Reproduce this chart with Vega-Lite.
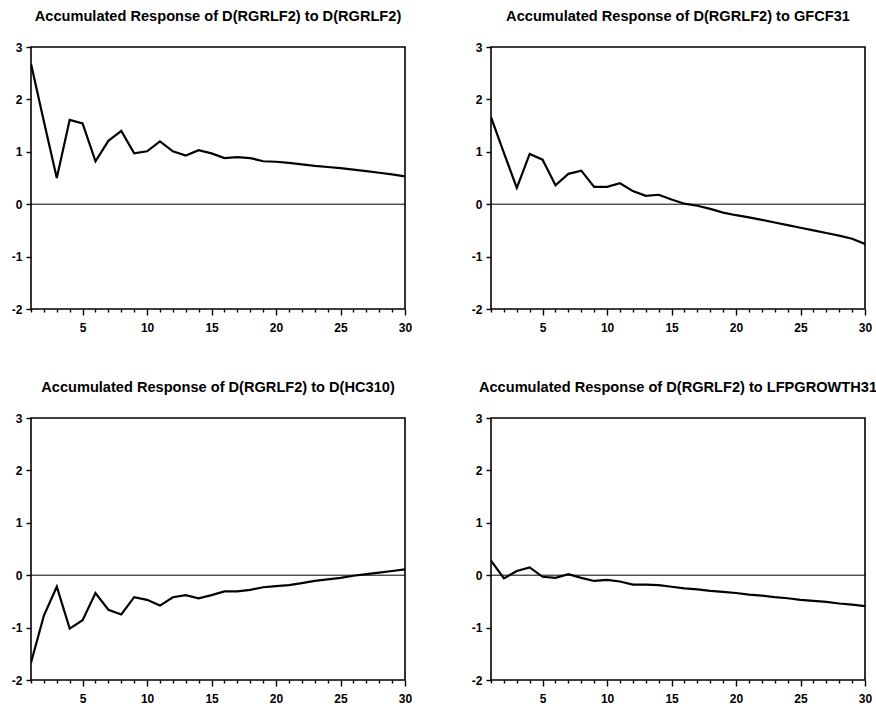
{
  "$schema": "https://vega.github.io/schema/vega-lite/v6.json",
  "background": "white",
  "padding": {"left": 10, "top": 8, "right": 4, "bottom": 4},
  "config": {
    "view": {"stroke": "black", "strokeWidth": 1.6},
    "font": "Liberation Sans",
    "axis": {
      "labelFont": "Liberation Sans",
      "labelFontWeight": "bold",
      "labelFontSize": 12,
      "labelColor": "black",
      "tickColor": "black",
      "domainColor": "black",
      "grid": false,
      "title": null
    }
  },
  "data": {
    "values": [
      {"panel": "Accumulated Response of D(RGRLF2) to D(RGRLF2)", "h": 1, "value": 2.68},
      {"panel": "Accumulated Response of D(RGRLF2) to D(RGRLF2)", "h": 2, "value": 1.58},
      {"panel": "Accumulated Response of D(RGRLF2) to D(RGRLF2)", "h": 3, "value": 0.5},
      {"panel": "Accumulated Response of D(RGRLF2) to D(RGRLF2)", "h": 4, "value": 1.61},
      {"panel": "Accumulated Response of D(RGRLF2) to D(RGRLF2)", "h": 5, "value": 1.54},
      {"panel": "Accumulated Response of D(RGRLF2) to D(RGRLF2)", "h": 6, "value": 0.82},
      {"panel": "Accumulated Response of D(RGRLF2) to D(RGRLF2)", "h": 7, "value": 1.21},
      {"panel": "Accumulated Response of D(RGRLF2) to D(RGRLF2)", "h": 8, "value": 1.4},
      {"panel": "Accumulated Response of D(RGRLF2) to D(RGRLF2)", "h": 9, "value": 0.97},
      {"panel": "Accumulated Response of D(RGRLF2) to D(RGRLF2)", "h": 10, "value": 1.01},
      {"panel": "Accumulated Response of D(RGRLF2) to D(RGRLF2)", "h": 11, "value": 1.2},
      {"panel": "Accumulated Response of D(RGRLF2) to D(RGRLF2)", "h": 12, "value": 1.01},
      {"panel": "Accumulated Response of D(RGRLF2) to D(RGRLF2)", "h": 13, "value": 0.93},
      {"panel": "Accumulated Response of D(RGRLF2) to D(RGRLF2)", "h": 14, "value": 1.03},
      {"panel": "Accumulated Response of D(RGRLF2) to D(RGRLF2)", "h": 15, "value": 0.97},
      {"panel": "Accumulated Response of D(RGRLF2) to D(RGRLF2)", "h": 16, "value": 0.88},
      {"panel": "Accumulated Response of D(RGRLF2) to D(RGRLF2)", "h": 17, "value": 0.9},
      {"panel": "Accumulated Response of D(RGRLF2) to D(RGRLF2)", "h": 18, "value": 0.88},
      {"panel": "Accumulated Response of D(RGRLF2) to D(RGRLF2)", "h": 19, "value": 0.82},
      {"panel": "Accumulated Response of D(RGRLF2) to D(RGRLF2)", "h": 20, "value": 0.81},
      {"panel": "Accumulated Response of D(RGRLF2) to D(RGRLF2)", "h": 21, "value": 0.79},
      {"panel": "Accumulated Response of D(RGRLF2) to D(RGRLF2)", "h": 22, "value": 0.76},
      {"panel": "Accumulated Response of D(RGRLF2) to D(RGRLF2)", "h": 23, "value": 0.73},
      {"panel": "Accumulated Response of D(RGRLF2) to D(RGRLF2)", "h": 24, "value": 0.71},
      {"panel": "Accumulated Response of D(RGRLF2) to D(RGRLF2)", "h": 25, "value": 0.69},
      {"panel": "Accumulated Response of D(RGRLF2) to D(RGRLF2)", "h": 26, "value": 0.66},
      {"panel": "Accumulated Response of D(RGRLF2) to D(RGRLF2)", "h": 27, "value": 0.63},
      {"panel": "Accumulated Response of D(RGRLF2) to D(RGRLF2)", "h": 28, "value": 0.6},
      {"panel": "Accumulated Response of D(RGRLF2) to D(RGRLF2)", "h": 29, "value": 0.57},
      {"panel": "Accumulated Response of D(RGRLF2) to D(RGRLF2)", "h": 30, "value": 0.53},

      {"panel": "Accumulated Response of D(RGRLF2) to GFCF31", "h": 1, "value": 1.66},
      {"panel": "Accumulated Response of D(RGRLF2) to GFCF31", "h": 2, "value": 0.98},
      {"panel": "Accumulated Response of D(RGRLF2) to GFCF31", "h": 3, "value": 0.31},
      {"panel": "Accumulated Response of D(RGRLF2) to GFCF31", "h": 4, "value": 0.96},
      {"panel": "Accumulated Response of D(RGRLF2) to GFCF31", "h": 5, "value": 0.85},
      {"panel": "Accumulated Response of D(RGRLF2) to GFCF31", "h": 6, "value": 0.36},
      {"panel": "Accumulated Response of D(RGRLF2) to GFCF31", "h": 7, "value": 0.58},
      {"panel": "Accumulated Response of D(RGRLF2) to GFCF31", "h": 8, "value": 0.64},
      {"panel": "Accumulated Response of D(RGRLF2) to GFCF31", "h": 9, "value": 0.33},
      {"panel": "Accumulated Response of D(RGRLF2) to GFCF31", "h": 10, "value": 0.33},
      {"panel": "Accumulated Response of D(RGRLF2) to GFCF31", "h": 11, "value": 0.4},
      {"panel": "Accumulated Response of D(RGRLF2) to GFCF31", "h": 12, "value": 0.25},
      {"panel": "Accumulated Response of D(RGRLF2) to GFCF31", "h": 13, "value": 0.16},
      {"panel": "Accumulated Response of D(RGRLF2) to GFCF31", "h": 14, "value": 0.18},
      {"panel": "Accumulated Response of D(RGRLF2) to GFCF31", "h": 15, "value": 0.09},
      {"panel": "Accumulated Response of D(RGRLF2) to GFCF31", "h": 16, "value": 0.01},
      {"panel": "Accumulated Response of D(RGRLF2) to GFCF31", "h": 17, "value": -0.03},
      {"panel": "Accumulated Response of D(RGRLF2) to GFCF31", "h": 18, "value": -0.09},
      {"panel": "Accumulated Response of D(RGRLF2) to GFCF31", "h": 19, "value": -0.16},
      {"panel": "Accumulated Response of D(RGRLF2) to GFCF31", "h": 20, "value": -0.21},
      {"panel": "Accumulated Response of D(RGRLF2) to GFCF31", "h": 21, "value": -0.25},
      {"panel": "Accumulated Response of D(RGRLF2) to GFCF31", "h": 22, "value": -0.3},
      {"panel": "Accumulated Response of D(RGRLF2) to GFCF31", "h": 23, "value": -0.35},
      {"panel": "Accumulated Response of D(RGRLF2) to GFCF31", "h": 24, "value": -0.4},
      {"panel": "Accumulated Response of D(RGRLF2) to GFCF31", "h": 25, "value": -0.45},
      {"panel": "Accumulated Response of D(RGRLF2) to GFCF31", "h": 26, "value": -0.5},
      {"panel": "Accumulated Response of D(RGRLF2) to GFCF31", "h": 27, "value": -0.55},
      {"panel": "Accumulated Response of D(RGRLF2) to GFCF31", "h": 28, "value": -0.6},
      {"panel": "Accumulated Response of D(RGRLF2) to GFCF31", "h": 29, "value": -0.66},
      {"panel": "Accumulated Response of D(RGRLF2) to GFCF31", "h": 30, "value": -0.76},

      {"panel": "Accumulated Response of D(RGRLF2) to D(HC310)", "h": 1, "value": -1.67},
      {"panel": "Accumulated Response of D(RGRLF2) to D(HC310)", "h": 2, "value": -0.77},
      {"panel": "Accumulated Response of D(RGRLF2) to D(HC310)", "h": 3, "value": -0.22},
      {"panel": "Accumulated Response of D(RGRLF2) to D(HC310)", "h": 4, "value": -1.02},
      {"panel": "Accumulated Response of D(RGRLF2) to D(HC310)", "h": 5, "value": -0.86},
      {"panel": "Accumulated Response of D(RGRLF2) to D(HC310)", "h": 6, "value": -0.34},
      {"panel": "Accumulated Response of D(RGRLF2) to D(HC310)", "h": 7, "value": -0.66},
      {"panel": "Accumulated Response of D(RGRLF2) to D(HC310)", "h": 8, "value": -0.75},
      {"panel": "Accumulated Response of D(RGRLF2) to D(HC310)", "h": 9, "value": -0.42},
      {"panel": "Accumulated Response of D(RGRLF2) to D(HC310)", "h": 10, "value": -0.47},
      {"panel": "Accumulated Response of D(RGRLF2) to D(HC310)", "h": 11, "value": -0.58},
      {"panel": "Accumulated Response of D(RGRLF2) to D(HC310)", "h": 12, "value": -0.42},
      {"panel": "Accumulated Response of D(RGRLF2) to D(HC310)", "h": 13, "value": -0.38},
      {"panel": "Accumulated Response of D(RGRLF2) to D(HC310)", "h": 14, "value": -0.44},
      {"panel": "Accumulated Response of D(RGRLF2) to D(HC310)", "h": 15, "value": -0.38},
      {"panel": "Accumulated Response of D(RGRLF2) to D(HC310)", "h": 16, "value": -0.31},
      {"panel": "Accumulated Response of D(RGRLF2) to D(HC310)", "h": 17, "value": -0.31},
      {"panel": "Accumulated Response of D(RGRLF2) to D(HC310)", "h": 18, "value": -0.28},
      {"panel": "Accumulated Response of D(RGRLF2) to D(HC310)", "h": 19, "value": -0.23},
      {"panel": "Accumulated Response of D(RGRLF2) to D(HC310)", "h": 20, "value": -0.21},
      {"panel": "Accumulated Response of D(RGRLF2) to D(HC310)", "h": 21, "value": -0.19},
      {"panel": "Accumulated Response of D(RGRLF2) to D(HC310)", "h": 22, "value": -0.15},
      {"panel": "Accumulated Response of D(RGRLF2) to D(HC310)", "h": 23, "value": -0.11},
      {"panel": "Accumulated Response of D(RGRLF2) to D(HC310)", "h": 24, "value": -0.08},
      {"panel": "Accumulated Response of D(RGRLF2) to D(HC310)", "h": 25, "value": -0.05},
      {"panel": "Accumulated Response of D(RGRLF2) to D(HC310)", "h": 26, "value": -0.01},
      {"panel": "Accumulated Response of D(RGRLF2) to D(HC310)", "h": 27, "value": 0.02},
      {"panel": "Accumulated Response of D(RGRLF2) to D(HC310)", "h": 28, "value": 0.05},
      {"panel": "Accumulated Response of D(RGRLF2) to D(HC310)", "h": 29, "value": 0.08},
      {"panel": "Accumulated Response of D(RGRLF2) to D(HC310)", "h": 30, "value": 0.11},

      {"panel": "Accumulated Response of D(RGRLF2) to LFPGROWTH31", "h": 1, "value": 0.28},
      {"panel": "Accumulated Response of D(RGRLF2) to LFPGROWTH31", "h": 2, "value": -0.06},
      {"panel": "Accumulated Response of D(RGRLF2) to LFPGROWTH31", "h": 3, "value": 0.08},
      {"panel": "Accumulated Response of D(RGRLF2) to LFPGROWTH31", "h": 4, "value": 0.15},
      {"panel": "Accumulated Response of D(RGRLF2) to LFPGROWTH31", "h": 5, "value": -0.03},
      {"panel": "Accumulated Response of D(RGRLF2) to LFPGROWTH31", "h": 6, "value": -0.05},
      {"panel": "Accumulated Response of D(RGRLF2) to LFPGROWTH31", "h": 7, "value": 0.02},
      {"panel": "Accumulated Response of D(RGRLF2) to LFPGROWTH31", "h": 8, "value": -0.05},
      {"panel": "Accumulated Response of D(RGRLF2) to LFPGROWTH31", "h": 9, "value": -0.11},
      {"panel": "Accumulated Response of D(RGRLF2) to LFPGROWTH31", "h": 10, "value": -0.09},
      {"panel": "Accumulated Response of D(RGRLF2) to LFPGROWTH31", "h": 11, "value": -0.12},
      {"panel": "Accumulated Response of D(RGRLF2) to LFPGROWTH31", "h": 12, "value": -0.18},
      {"panel": "Accumulated Response of D(RGRLF2) to LFPGROWTH31", "h": 13, "value": -0.18},
      {"panel": "Accumulated Response of D(RGRLF2) to LFPGROWTH31", "h": 14, "value": -0.19},
      {"panel": "Accumulated Response of D(RGRLF2) to LFPGROWTH31", "h": 15, "value": -0.22},
      {"panel": "Accumulated Response of D(RGRLF2) to LFPGROWTH31", "h": 16, "value": -0.25},
      {"panel": "Accumulated Response of D(RGRLF2) to LFPGROWTH31", "h": 17, "value": -0.27},
      {"panel": "Accumulated Response of D(RGRLF2) to LFPGROWTH31", "h": 18, "value": -0.3},
      {"panel": "Accumulated Response of D(RGRLF2) to LFPGROWTH31", "h": 19, "value": -0.32},
      {"panel": "Accumulated Response of D(RGRLF2) to LFPGROWTH31", "h": 20, "value": -0.34},
      {"panel": "Accumulated Response of D(RGRLF2) to LFPGROWTH31", "h": 21, "value": -0.37},
      {"panel": "Accumulated Response of D(RGRLF2) to LFPGROWTH31", "h": 22, "value": -0.39},
      {"panel": "Accumulated Response of D(RGRLF2) to LFPGROWTH31", "h": 23, "value": -0.42},
      {"panel": "Accumulated Response of D(RGRLF2) to LFPGROWTH31", "h": 24, "value": -0.44},
      {"panel": "Accumulated Response of D(RGRLF2) to LFPGROWTH31", "h": 25, "value": -0.47},
      {"panel": "Accumulated Response of D(RGRLF2) to LFPGROWTH31", "h": 26, "value": -0.49},
      {"panel": "Accumulated Response of D(RGRLF2) to LFPGROWTH31", "h": 27, "value": -0.51},
      {"panel": "Accumulated Response of D(RGRLF2) to LFPGROWTH31", "h": 28, "value": -0.54},
      {"panel": "Accumulated Response of D(RGRLF2) to LFPGROWTH31", "h": 29, "value": -0.56},
      {"panel": "Accumulated Response of D(RGRLF2) to LFPGROWTH31", "h": 30, "value": -0.59}
    ]
  },
  "facet": {
    "field": "panel",
    "type": "nominal",
    "sort": [
      "Accumulated Response of D(RGRLF2) to D(RGRLF2)",
      "Accumulated Response of D(RGRLF2) to GFCF31",
      "Accumulated Response of D(RGRLF2) to D(HC310)",
      "Accumulated Response of D(RGRLF2) to LFPGROWTH31"
    ],
    "header": {
      "title": null,
      "labelFont": "Liberation Sans",
      "labelFontWeight": "bold",
      "labelFontSize": 14.6,
      "labelColor": "black",
      "labelPadding": 17
    }
  },
  "columns": 2,
  "bounds": "flush",
  "spacing": {"column": 86, "row": 109},
  "resolve": {"axis": {"x": "independent", "y": "independent"}},
  "spec": {
    "width": 374,
    "height": 262,
    "encoding": {
      "x": {
        "field": "h",
        "type": "quantitative",
        "scale": {"domain": [1, 30], "nice": false, "zero": false},
        "axis": {
          "values": [1,2,3,4,5,6,7,8,9,10,11,12,13,14,15,16,17,18,19,20,21,22,23,24,25,26,27,28,29,30],
          "labelExpr": "datum.value % 5 == 0 ? datum.label : ''",
          "tickSize": {"condition": {"test": "datum.value % 5 == 0", "value": 6}, "value": 3},
          "tickWidth": 1.4,
          "domain": false,
          "labelPadding": 7,
          "labelOverlap": false,
          "labelFlush": false
        }
      },
      "y": {
        "field": "value",
        "type": "quantitative",
        "scale": {"domain": [-2, 3], "nice": false},
        "axis": {
          "values": [-2, -1, 0, 1, 2, 3],
          "labelExpr": "toString(datum.value)",
          "tickSize": 5,
          "tickWidth": 1.4,
          "domain": false,
          "labelPadding": 4,
          "labelFlush": false
        }
      }
    },
    "layer": [
      {
        "transform": [{"filter": "datum.h == 1"}],
        "mark": {"type": "rule", "color": "black", "strokeWidth": 1},
        "encoding": {
          "x": {"datum": 1, "type": "quantitative"},
          "x2": {"datum": 30},
          "y": {"datum": 0, "type": "quantitative"}
        }
      },
      {
        "mark": {"type": "line", "color": "black", "strokeWidth": 2.2, "clip": true},
        "encoding": {}
      }
    ]
  }
}
